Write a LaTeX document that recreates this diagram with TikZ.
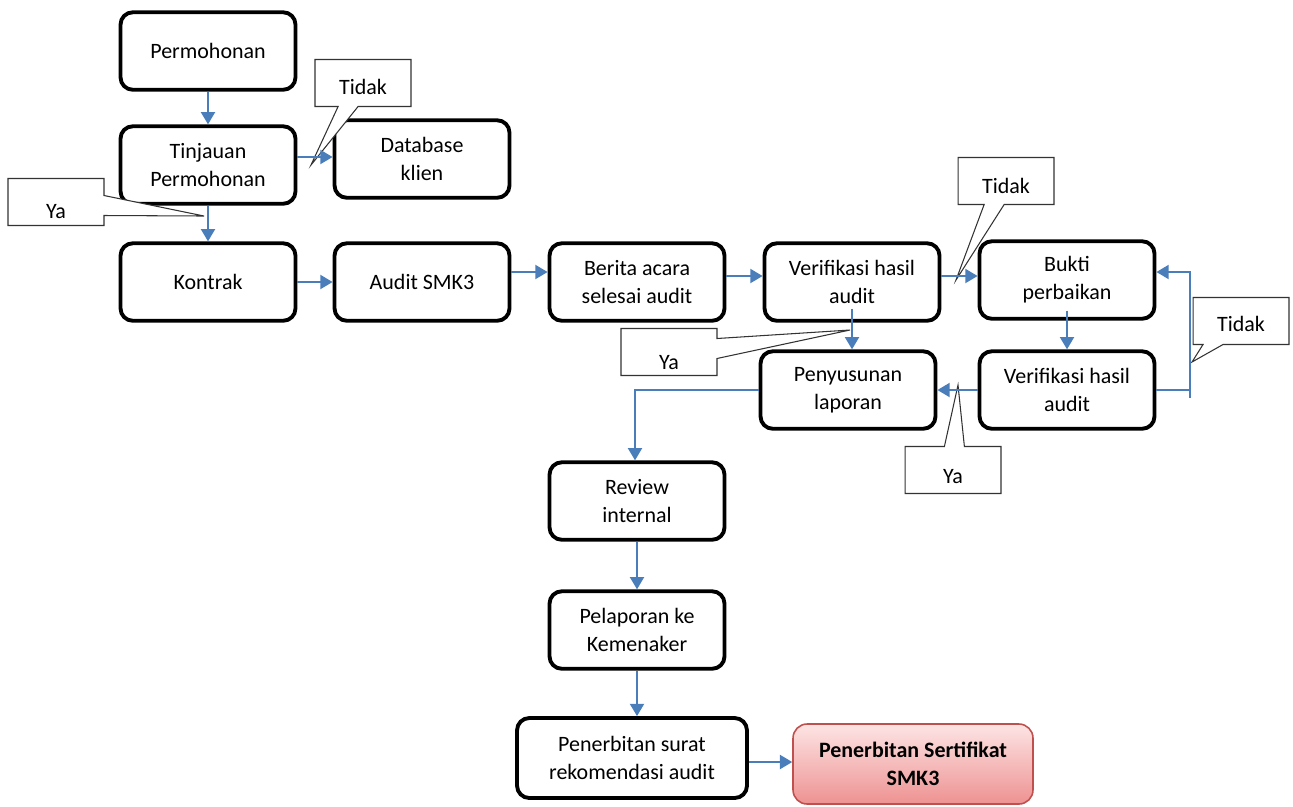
\documentclass[tikz,border=0pt]{standalone}
\usepackage{fontspec}
\setmainfont{Carlito}
\usetikzlibrary{arrows.meta,shapes.callouts}
\definecolor{flowblue}{RGB}{74,126,187}
\definecolor{certred}{RGB}{192,80,77}
\definecolor{certtop}{RGB}{253,228,228}
\definecolor{certbottom}{RGB}{238,146,146}
\newcommand{\lowtext}[2]{\raisebox{-#1}[0pt][0pt]{#2}}

\begin{document}
\begin{tikzpicture}[x=0.02cm,y=-0.02cm,
  font=\fontsize{12.5}{16}\selectfont,
  stepbox/.style={draw, line width=2.2pt, rounded corners=7pt, minimum width=3.5cm, minimum height=1.55cm, align=center, fill=white},
  flow/.style={draw=flowblue, line width=1.1pt, -{Triangle[width=8pt,length=7pt]}},
  note/.style={rectangle callout, draw=black!80, line width=0.6pt, fill=white, minimum width=1.92cm, minimum height=0.94cm, callout pointer width=0.4cm}]
\useasboundingbox (0,0) rectangle (1293,806);

\node[stepbox] (permohonan) at (208,51) {Permohonan};
\node[stepbox] (tinjauan) at (208,165) {Tinjauan\\Permohonan};
\node[stepbox] (database) at (422,159) {Database\\klien};
\node[stepbox] (kontrak) at (208,282) {Kontrak};
\node[stepbox] (audit) at (422,282) {Audit SMK3};
\node[stepbox] (berita) at (637,282) {Berita acara\\selesai audit};
\node[stepbox] (verif) at (852,282) {Verifikasi hasil\\audit};
\node[stepbox] (bukti) at (1067,280) {Bukti\\perbaikan};
\node[stepbox] (verifulang) at (1067,390) {Verifikasi hasil\\audit};
\node[stepbox] (laporan) at (848,390) {Penyusunan\\laporan};
\node[stepbox] (review) at (637,501) {Review\\internal};
\node[stepbox] (pelaporan) at (637,630) {Pelaporan ke\\Kemenaker};
\node[stepbox, minimum width=4.6cm, minimum height=1.6cm] (rekom) at (632,758) {Penerbitan surat\\rekomendasi audit};
\node[draw=certred, line width=0.9pt, rounded corners=8pt, top color=certtop, bottom color=certbottom,
  minimum width=4.8cm, minimum height=1.6cm, align=center, font=\fontsize{12.5}{16}\selectfont\bfseries] (sertifikat) at (913,764) {Penerbitan Sertifikat\\SMK3};

% keterangan
\node[note, callout absolute pointer={(311,165)}] (tidakdb) at (363,83) {\lowtext{0.22cm}{Tidak}};
\node[note, callout absolute pointer={(204,216)}] (yakontrak) at (56,202) {\lowtext{0.32cm}{Ya}};
\node[note, callout absolute pointer={(850,330)}] (yalaporan) at (669,352) {\lowtext{0.34cm}{Ya}};
\node[note, callout absolute pointer={(956,280)}] (tidakbukti) at (1006,181) {\lowtext{0.24cm}{Tidak}};
\node[note, callout absolute pointer={(1192,362)}] (tidakulang) at (1241,321) {\lowtext{0.2cm}{Tidak}};
\node[note, callout absolute pointer={(958,385)}] (yaulang) at (953,470) {\lowtext{0.26cm}{Ya}};

% alur
\draw[flow] (permohonan) -- (tinjauan);
\draw[flow] ([yshift=0.16cm]tinjauan.east) -- ([yshift=0.16cm]tinjauan.east -| database.west);
\draw[flow] (tinjauan) -- (kontrak);
\draw[flow] (kontrak) -- (audit);
\draw[flow] ([yshift=0.2cm]audit.east) -- ([yshift=0.2cm]audit.east -| berita.west);
\draw[flow] ([yshift=0.12cm]berita.east) -- ([yshift=0.12cm]berita.east -| verif.west);
\draw[flow] ([yshift=0.12cm]verif.east) -- ([yshift=0.12cm]verif.east -| bukti.west);
\draw[flow] ([yshift=0.28cm]verif.south) -- (verif.south |- laporan.north);
\draw[flow] ([yshift=0.2cm]bukti.south) -- (bukti.south |- verifulang.north);
\draw[flow] (verifulang.west) -- (verifulang.west -| laporan.east);
\coordinate (balik) at (1190,398);
\draw[flow] (verifulang.east) -- (verifulang.east -| balik) -- ([yshift=0.16cm]bukti.east -| balik) -- ([yshift=0.16cm]bukti.east);
\draw[flowblue, line width=1.1pt] (balik) -- (verifulang.east -| balik);
\draw[flow] (laporan.west) -| ([xshift=-0.04cm]review.north);
\draw[flow] (review) -- (pelaporan);
\draw[flow] (pelaporan.south) -- (pelaporan.south |- rekom.north);
\draw[flow] ([yshift=-0.08cm]rekom.east) -- ([yshift=-0.08cm]rekom.east -| sertifikat.west);
\end{tikzpicture}
\end{document}
